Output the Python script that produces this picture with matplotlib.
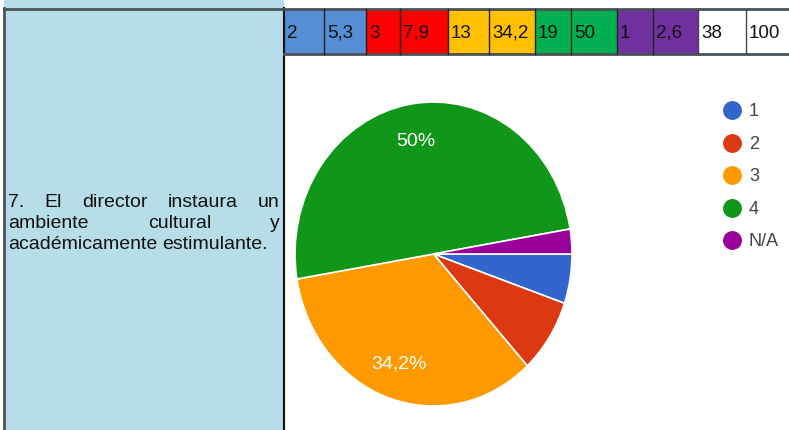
import matplotlib
matplotlib.use("Agg")
import matplotlib.pyplot as plt
from matplotlib.patches import Rectangle

plt.rcParams["font.family"] = ["Liberation Sans", "DejaVu Sans"]

# Survey answers for item 7
question = "7. El director instaura un ambiente cultural y académicamente estimulante."
answer_labels = ["1", "2", "3", "4", "N/A"]
answer_counts = [2, 3, 13, 19, 1]
answer_pcts = [5.3, 7.9, 34.2, 50, 2.6]
total_count = 38
total_pct = 100

# table colours (one pair of cells per answer) and pie colours
cell_colors = ["#558ed5", "#ff0000", "#ffc000", "#00b050", "#7030a0"]
pie_colors = ["#3366cc", "#dc3912", "#ff9900", "#109618", "#990099"]

W, H = 789, 431


def fmt_num(v):
    s = "{:g}".format(v)
    return s.replace(".", ",")


fig = plt.figure(figsize=(W / 100, H / 100), dpi=100)

# pixel-space axes for the table part
ax = fig.add_axes([0, 0, 1, 1])
ax.set_xlim(0, W)
ax.set_ylim(H, 0)
ax.axis("off")

# question cell on the left
ax.add_patch(Rectangle((4, 0), 280, H, facecolor="#b7dde8", edgecolor="none", zorder=1))
ax.plot([4.5, 4.5], [9, H], color="#4a5258", lw=2, zorder=3)
ax.plot([284, 284], [9, H], color="#111111", lw=1.5, zorder=3)
ax.plot([4, W], [9.5, 9.5], color="#4a5258", lw=2, zorder=3)
ax.plot([284, W], [55, 55], color="#4a5258", lw=2, zorder=3)

# justified question text
lines = [["7.", "El", "director", "instaura", "un"],
         ["ambiente", "cultural", "y"],
         ["académicamente", "estimulante."]]
x0, x1 = 8, 280
baselines = [207, 228, 249]
qsize = 14
fig.canvas.draw()
renderer = fig.canvas.get_renderer()
inv = ax.transData.inverted()
for li, words in enumerate(lines):
    widths = []
    for w in words:
        t = ax.text(0, 0, w, fontsize=qsize)
        bb = t.get_window_extent(renderer)
        p0 = inv.transform((bb.x0, bb.y0))
        p1 = inv.transform((bb.x1, bb.y0))
        widths.append(p1[0] - p0[0])
        t.remove()
    if li == len(lines) - 1:
        gap = 4.5
    else:
        gap = (x1 - x0 - sum(widths)) / (len(words) - 1)
    x = x0
    for w, wd in zip(words, widths):
        ax.text(x, baselines[li], w, fontsize=qsize, color="#111111",
                va="baseline", ha="left", zorder=4)
        x += wd + gap

# colour-coded count / percent row
edges = [284, 324, 366, 400, 448, 489, 535, 571, 617, 653, 698, 746, W + 20]
cells = []
for cnt, pct, col in zip(answer_counts, answer_pcts, cell_colors):
    cells.append((fmt_num(cnt), col))
    cells.append((fmt_num(pct), col))
cells.append((fmt_num(total_count), "white"))
cells.append((fmt_num(total_pct), "white"))
for i, (txt, col) in enumerate(cells):
    left, right = edges[i], edges[i + 1]
    ax.add_patch(Rectangle((left, 10), right - left, 45, facecolor=col,
                           edgecolor="none", zorder=1))
    if i > 0:
        lc = "#444444" if col == "white" else "#222222"
        ax.plot([left, left], [10, 55], color=lc, lw=1, zorder=3)
    ax.text(left + 3, 33, txt, fontsize=13.5, color="#111111",
            va="center", ha="left", zorder=4)

# legend
for i, (lab, col) in enumerate(zip(answer_labels, pie_colors)):
    y = 111 + 32.5 * i
    ax.scatter([732], [y], s=185, color=col, zorder=4, linewidths=0)
    ax.text(749, y + 1, lab, fontsize=13, color="#444444",
            va="center", ha="left", zorder=4)

# pie chart (stretched vertically, like the exported form chart)
pax = fig.add_axes([295 / W, (H - 407) / H, 277 / W, 304 / H])


def pie_label(p):
    if p < 20:
        return ""
    return fmt_num(round(p, 1)) + "%"


pax.pie(answer_counts, colors=pie_colors, startangle=0, counterclock=False,
        autopct=pie_label, pctdistance=0.76,
        wedgeprops=dict(edgecolor="white", linewidth=1.2),
        textprops=dict(color="white", fontsize=14))
pax.set_aspect("auto")
pax.set_xlim(-1.0, 1.0)
pax.set_ylim(-1.0, 1.0)
pax.axis("off")

fig.savefig("out.png", dpi=100)
